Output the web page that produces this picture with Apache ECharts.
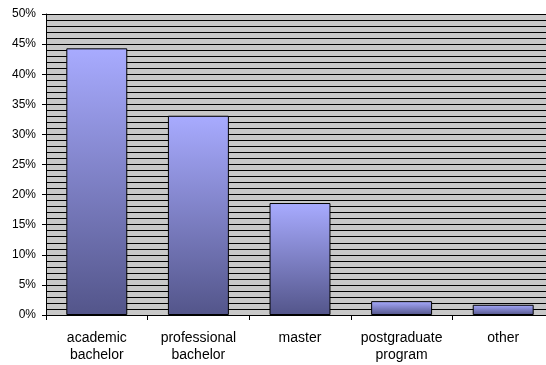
<!DOCTYPE html>
<html>
<head>
<meta charset="utf-8">
<script src="https://cdn.jsdelivr.net/npm/echarts@6/dist/echarts.min.js"></script>
<style>
  html, body { margin: 0; padding: 0; background: #fff; overflow: hidden; }
  #chart { width: 554px; height: 365px; }
</style>
</head>
<body>
<div id="chart"></div>
<script>
const categories = ["academic\nbachelor", "professional\nbachelor", "master", "postgraduate\nprogram", "other"];
const shares = [44.3, 33.1, 18.6, 2.3, 1.7];
const yTicks = [0, 5, 10, 15, 20, 25, 30, 35, 40, 45, 50];

// the plot runs a little past the right edge of the window, as in the original
const myChart = echarts.init(document.getElementById("chart"));
const option = {
  animation: false,
  textStyle: { fontFamily: "Liberation Sans" },
  grid: {
    left: 46,
    right: 0,
    top: 14,
    bottom: 50,
    show: true,
    backgroundColor: "#c8c8c8",
    borderWidth: 0
  },
  xAxis: {
    type: "category",
    data: categories,
    axisLine: { lineStyle: { color: "#000", width: 1 } },
    axisTick: { show: true, inside: false, length: 5, lineStyle: { color: "#000" } },
    axisLabel: {
      interval: 0,
      color: "#000",
      fontSize: 14,
      lineHeight: 17,
      margin: 15
    }
  },
  yAxis: {
    type: "value",
    min: yTicks[0],
    max: yTicks[yTicks.length - 1],
    interval: 5,
    axisLine: { show: true, lineStyle: { color: "#000", width: 1 } },
    axisTick: { show: true, length: 4, lineStyle: { color: "#000" } },
    axisLabel: {
      color: "#000",
      fontSize: 12,
      margin: 10,
      formatter: v => v + "%"
    },
    splitLine: { show: true, lineStyle: { color: "#000", width: 1 } },
    minorTick: { show: false, splitNumber: 5 },
    minorSplitLine: { show: true, lineStyle: { color: "#000", width: 1 } }
  },
  series: [
    {
      type: "bar",
      data: shares,
      barCategoryGap: "40%",
      itemStyle: {
        borderColor: "#000",
        borderWidth: 1,
        color: new echarts.graphic.LinearGradient(0, 0, 0, 1, [
          { offset: 0, color: "#a8abff" },
          { offset: 1, color: "#53558a" }
        ])
      }
    }
  ]
};
myChart.setOption(option);
</script>
</body>
</html>
